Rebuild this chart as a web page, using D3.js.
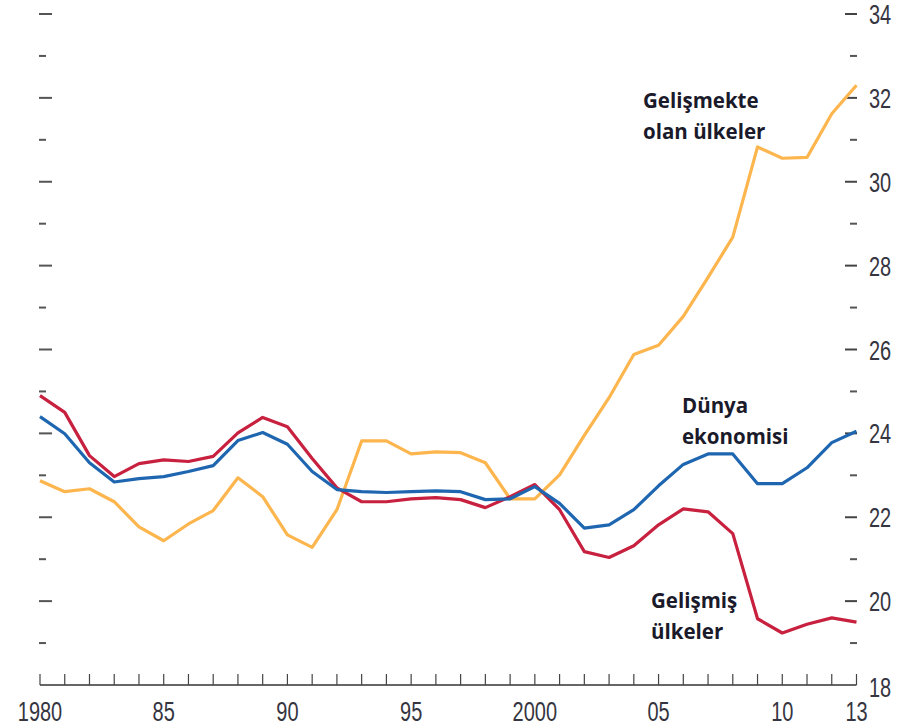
<!DOCTYPE html>
<html><head><meta charset="utf-8">
<script src="https://cdn.jsdelivr.net/npm/d3@7"></script>
<style>
html,body{margin:0;padding:0;background:#fff;}
svg{display:block;}
.axlab{font-family:"Liberation Sans",Arial,sans-serif;font-size:27px;fill:#35353f;}
.ann{font-family:"Open Sans",sans-serif;font-weight:bold;font-size:20.5px;fill:#1a1a2a;}
</style></head>
<body>
<script>
const years = d3.range(1980, 2014);
const gelismekte = [22.87,22.61,22.68,22.37,21.77,21.44,21.84,22.16,22.94,22.49,21.58,21.28,22.18,23.82,23.82,23.51,23.56,23.54,23.30,22.44,22.44,23.01,23.95,24.85,25.88,26.10,26.79,27.72,28.68,30.83,30.56,30.58,31.62,32.30];
const dunya = [24.40,23.99,23.30,22.84,22.92,22.97,23.09,23.23,23.83,24.02,23.74,23.09,22.66,22.61,22.59,22.61,22.63,22.61,22.42,22.44,22.73,22.33,21.74,21.82,22.18,22.75,23.26,23.51,23.51,22.80,22.80,23.18,23.78,24.05];
const gelismis = [24.90,24.50,23.47,22.97,23.28,23.37,23.33,23.45,24.01,24.38,24.16,23.40,22.70,22.37,22.37,22.44,22.47,22.42,22.23,22.49,22.78,22.18,21.18,21.04,21.32,21.82,22.20,22.13,21.61,19.58,19.24,19.45,19.60,19.50];
const rightTicks = [20,22,24,26,28,30,32,34];
const minorTicks = [19,21,23,25,27,29,31,33];
const xLabels = [[1980,"1980"],[1985,"85"],[1990,"90"],[1995,"95"],[2000,"2000"],[2005,"05"],[2010,"10"],[2013,"13"]];
const series = [
  {name:"Gelişmekte olan ülkeler", values:gelismekte, color:"#fdb54e"},
  {name:"Gelişmiş ülkeler", values:gelismis, color:"#c8203f"},
  {name:"Dünya ekonomisi", values:dunya, color:"#1f66b1"}
];
const annotations = [
  {lines:["Gelişmekte","olan ülkeler"], x:643, y:108},
  {lines:["Dünya","ekonomisi"], x:682, y:413},
  {lines:["Gelişmiş","ülkeler"], x:651, y:608}
];

const W=916,H=726;
const svg=d3.select("body").append("svg").attr("width",W).attr("height",H);
const x=d3.scaleLinear().domain([1980,2013]).range([40,856.5]);
const y=d3.scaleLinear().domain([18,34]).range([685,14]);
const SX=0.74;

// x axis baseline and ticks
svg.append("line").attr("x1",x(1980)).attr("x2",x(2013)).attr("y1",y(18)).attr("y2",y(18))
  .attr("stroke","#333").attr("stroke-width",1.5);
svg.selectAll(".xt").data(years).join("line")
  .attr("x1",d=>x(d)).attr("x2",d=>x(d)).attr("y1",y(18)).attr("y2",y(18)-11)
  .attr("stroke","#444").attr("stroke-width",1.2);
svg.selectAll(".xl").data(xLabels).join("text").attr("class","axlab")
  .attr("transform",d=>`translate(${x(d[0])},${y(18)+36}) scale(${SX},1)`)
  .attr("text-anchor","middle").text(d=>d[1]);

// left ticks
svg.selectAll(".lmaj").data(rightTicks).join("line")
  .attr("x1",39).attr("x2",52).attr("y1",d=>y(d)).attr("y2",d=>y(d)).attr("stroke","#555").attr("stroke-width",2);
svg.selectAll(".lmin").data(minorTicks).join("line")
  .attr("x1",39).attr("x2",46).attr("y1",d=>y(d)).attr("y2",d=>y(d)).attr("stroke","#555").attr("stroke-width",2);
// right ticks
svg.selectAll(".rmaj").data(rightTicks).join("line")
  .attr("x1",845).attr("x2",857).attr("y1",d=>y(d)).attr("y2",d=>y(d)).attr("stroke","#444").attr("stroke-width",2);
svg.selectAll(".rmin").data(minorTicks).join("line")
  .attr("x1",850).attr("x2",857).attr("y1",d=>y(d)).attr("y2",d=>y(d)).attr("stroke","#555").attr("stroke-width",2);
svg.selectAll(".rl").data([18].concat(rightTicks)).join("text").attr("class","axlab")
  .attr("transform",d=>`translate(869,${y(d)+(d===18?12:10)}) scale(${SX},1)`).text(d=>d);

// lines
const line=d3.line().x((d,i)=>x(years[i])).y(d=>y(d));
svg.selectAll(".series").data(series).join("path")
  .attr("fill","none").attr("stroke",d=>d.color).attr("stroke-width",3.2)
  .attr("stroke-linejoin","round").attr("d",d=>line(d.values));

// annotations
annotations.forEach(a=>{
  const t=svg.append("text").attr("class","ann").attr("x",a.x).attr("y",a.y);
  a.lines.forEach((l,i)=>t.append("tspan").attr("x",a.x).attr("dy",i===0?0:31).text(l));
});
</script>
</body></html>
